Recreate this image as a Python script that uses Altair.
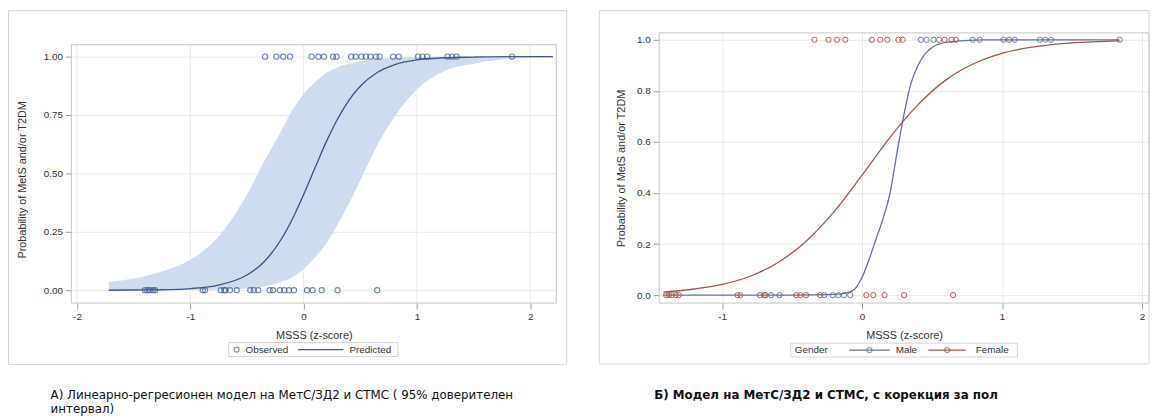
import altair as alt
import pandas as pd

# ---------------- data ----------------
# observed outcome = 1 (x positions, MSSS z-score) and gender
obs1_x = [-0.34, -0.24, -0.18, -0.12, 0.07, 0.13, 0.18, 0.26, 0.29, 0.42, 0.46, 0.51, 0.55,
          0.59, 0.64, 0.67, 0.79, 0.84, 1.01, 1.05, 1.09, 1.27, 1.31, 1.35, 1.84]
obs1_g = ["Female", "Female", "Female", "Female", "Female", "Female", "Female", "Female", "Female",
          "Male", "Male", "Male", "Male", "Female", "Female", "Female", "Male", "Male", "Male",
          "Female", "Male", "Male", "Male", "Male", "Male"]
# observed outcome = 0
obs0_x = [-1.40, -1.38, -1.36, -1.33, -1.31, -0.89, -0.87, -0.73, -0.70, -0.69, -0.65, -0.59,
          -0.47, -0.44, -0.40, -0.30, -0.27, -0.21, -0.17, -0.13, -0.085, 0.03, 0.08, 0.16, 0.30, 0.65]
obs0_g = ["Female", "Female", "Female", "Female", "Female", "Female", "Female", "Female", "Female",
          "Female", "Male", "Male", "Female", "Female", "Female", "Female", "Male", "Male", "Male",
          "Male", "Male", "Female", "Female", "Female", "Female", "Female"]

# panel A: predicted probability with 95% confidence limits
pred_x = [-1.72, -1.5, -1.25, -1.0, -0.75, -0.5, -0.35, -0.2, -0.1, 0.0, 0.1, 0.2, 0.3, 0.4,
          0.5, 0.65, 0.8, 1.0, 1.25, 1.5, 1.8, 2.2]
pred_p = [0.000, 0.001, 0.002, 0.007, 0.022, 0.065, 0.121, 0.216, 0.304, 0.409, 0.523, 0.635,
          0.733, 0.813, 0.873, 0.932, 0.965, 0.986, 0.995, 0.998, 1.0, 1.0]
ci_low = [0.0, 0.0, 0.0002, 0.0007, 0.002, 0.007, 0.016, 0.035, 0.055, 0.09, 0.14, 0.20, 0.28,
          0.37, 0.47, 0.62, 0.74, 0.86, 0.94, 0.97, 0.99, 0.997]
ci_up = [0.035, 0.05, 0.08, 0.13, 0.23, 0.41, 0.55, 0.68, 0.77, 0.84, 0.89, 0.93, 0.955, 0.97,
         0.98, 0.99, 0.995, 0.998, 0.999, 1.0, 1.0, 1.0]

# panel B: predicted probability by gender
male_x = [-1.42, -0.5, -0.2, -0.1, -0.05, 0.0, 0.05, 0.1, 0.15, 0.2, 0.25, 0.3, 0.35, 0.4,
          0.45, 0.5, 0.6, 0.8, 1.2, 1.84]
male_p = [0.0, 0.0, 0.003, 0.01, 0.025, 0.07, 0.14, 0.22, 0.30, 0.40, 0.56, 0.71, 0.83, 0.90,
          0.945, 0.97, 0.99, 0.999, 1.0, 1.0]
female_x = [-1.42, -1.2, -1.0, -0.8, -0.6, -0.4, -0.2, 0.0, 0.2, 0.4, 0.6, 0.8, 1.0, 1.2, 1.5, 1.84]
female_p = [0.012, 0.024, 0.042, 0.074, 0.128, 0.211, 0.327, 0.47, 0.618, 0.746, 0.843, 0.907,
            0.947, 0.970, 0.988, 0.996]

xa_ticks = [-2, -1, 0, 1, 2]
ya_ticks = [0, 0.25, 0.5, 0.75, 1.0]
xb_ticks = [-1, 0, 1, 2]
yb_ticks = [0, 0.2, 0.4, 0.6, 0.8, 1.0]

y_title = "Probability of MetS and/or T2DM"
x_title = "MSSS (z-score)"
cap_a1 = "А) Линеарно-регресионен модел на МетС/ЗД2 и СТМС ( 95% доверителен"
cap_a2 = "интервал)"
cap_b = "Б) Модел на МетС/ЗД2 и СТМС, с корекция за пол"

# ---------------- tables ----------------
obs = pd.DataFrame({
    "x": obs1_x + obs0_x,
    "y": [1.0] * len(obs1_x) + [0.0] * len(obs0_x),
    "g": obs1_g + obs0_g,
})
pred = pd.DataFrame({"x": pred_x, "p": pred_p, "lo": ci_low, "hi": ci_up})
fit = pd.DataFrame({
    "x": male_x + female_x,
    "p": male_p + female_p,
    "g": ["Male"] * len(male_x) + ["Female"] * len(female_x),
})
xa_grid = pd.DataFrame({"v": xa_ticks})
one = pd.DataFrame({"a": [0]})

LBL = "Liberation Sans"
CAP = "DejaVu Sans"
AX = "#333333"
FRAME = "#d6d6d6"
BORDER = "#c4c4c4"

BLUE_A = "#44568c"
BAND = "#cfdcf0"
MALE = "#63709f"
FEMALE = "#a4544c"


def deco_text(txt, x, y, size=10, weight="normal", font=LBL, color=AX):
    return alt.Chart(one).mark_text(align="left", baseline="middle", fontSize=size,
                                    fontWeight=weight, font=font, color=color).encode(
        x=alt.value(x), y=alt.value(y), text=alt.value(txt))


def deco_rule(x1, x2, y, color):
    return alt.Chart(one).mark_rule(color=color, strokeWidth=1.2).encode(
        x=alt.value(x1), x2=alt.value(x2), y=alt.value(y))


def deco_circle(x, y, color):
    return alt.Chart(one).mark_point(shape="circle", size=26, filled=False, color=color,
                                     strokeWidth=1.1).encode(x=alt.value(x), y=alt.value(y))


def deco_box(x1, x2, y1, y2, color=FRAME):
    return alt.Chart(one).mark_rect(fill="white", fillOpacity=0, stroke=color, strokeWidth=1).encode(
        x=alt.value(x1), x2=alt.value(x2), y=alt.value(y1), y2=alt.value(y2))


# ---------------- panel A ----------------
# plot origin shared with panel B; the visible wall of panel A starts 12px lower
WA, HA = 490, 273
xa_scale = alt.Scale(domain=[-2.05, 2.23], nice=False, zero=False)
ya_scale = alt.Scale(domain=[-0.055, 1.1017], nice=False, zero=False)
xa_axis = alt.Axis(values=xa_ticks, labelExpr="'' + datum.value", title=x_title,
                   titlePadding=8, grid=False)
ya_axis = alt.Axis(values=ya_ticks, labelExpr="format(datum.value, '.2f')",
                   title=y_title, titlePadding=16, titleY=148)

vgrid_a = alt.Chart(xa_grid).mark_rule(color="#e9e9e9", strokeWidth=1).encode(
    x=alt.X("v:Q", scale=xa_scale, axis=xa_axis),
    y=alt.value(12), y2=alt.value(HA),
)
band = alt.Chart(pred).mark_area(color=BAND, opacity=1, interpolate="monotone").encode(
    x=alt.X("x:Q", scale=xa_scale, axis=xa_axis),
    y=alt.Y("lo:Q", scale=ya_scale, axis=ya_axis),
    y2="hi:Q",
)
curve = alt.Chart(pred).mark_line(color=BLUE_A, strokeWidth=1.4, interpolate="monotone").encode(
    x=alt.X("x:Q", scale=xa_scale, axis=xa_axis),
    y=alt.Y("p:Q", scale=ya_scale, axis=ya_axis),
)
pts_a = alt.Chart(obs).mark_point(shape="circle", size=28, filled=False, color="#3b55a0",
                                  strokeWidth=1.1).encode(
    x=alt.X("x:Q", scale=xa_scale, axis=xa_axis),
    y=alt.Y("y:Q", scale=ya_scale, axis=ya_axis),
)

left = alt.layer(
    vgrid_a,
    deco_box(-63.5, 500.5, -22.5, 335),
    band, curve, pts_a,
    deco_box(0, WA, 12, HA, BORDER),
    deco_box(159, 330, 313, 327),
    deco_circle(167, 320, "#3b55a0"),
    deco_text("Observed", 176, 320),
    deco_rule(229, 275, 320, BLUE_A),
    deco_text("Predicted", 281, 320),
    deco_text(cap_a1, -21, 366, size=12, font=CAP, color="#111111"),
    deco_text(cap_a2, -21, 380, size=12, font=CAP, color="#111111"),
).properties(width=WA, height=HA)

# ---------------- panel B ----------------
WB, HB = 495, 273
xb_scale = alt.Scale(domain=[-1.45, 2.05], nice=False, zero=False)
yb_scale = alt.Scale(domain=[-0.031, 1.027], nice=False, zero=False)
xb_axis = alt.Axis(values=xb_ticks, labelExpr="'' + datum.value", title=x_title,
                   titlePadding=8)
yb_axis = alt.Axis(values=yb_ticks, labelExpr="format(datum.value, '.1f')",
                   title=y_title, titlePadding=10)
g_scale = alt.Scale(domain=["Male", "Female"], range=[MALE, FEMALE])

lines_b = alt.Chart(fit).mark_line(strokeWidth=1.3, interpolate="monotone").encode(
    x=alt.X("x:Q", scale=xb_scale, axis=xb_axis),
    y=alt.Y("p:Q", scale=yb_scale, axis=yb_axis),
    color=alt.Color("g:N", scale=g_scale, legend=None),
    detail="g:N",
)
pts_b = alt.Chart(obs).mark_point(shape="circle", size=28, filled=False, strokeWidth=1.0,
                                  opacity=0.9).encode(
    x=alt.X("x:Q", scale=xb_scale, axis=xb_axis),
    y=alt.Y("y:Q", scale=yb_scale, axis=yb_axis),
    color=alt.Color("g:N", scale=g_scale, legend=None),
)

right = alt.layer(
    deco_box(-60.5, 495, -22.5, 334.5),
    lines_b, pts_b,
    deco_box(0, WB, 0, HB, BORDER),
    deco_box(133, 362, 313.5, 327.5),
    deco_text("Gender", 137, 320.5),
    deco_rule(192, 233, 320.5, MALE),
    deco_circle(212.5, 320.5, MALE),
    deco_text("Male", 239, 320.5),
    deco_rule(272, 310, 320.5, FEMALE),
    deco_circle(291, 320.5, FEMALE),
    deco_text("Female", 320, 320.5),
    deco_text(cap_b, -5, 366, size=12, weight="bold", font=CAP, color="#111111"),
).properties(width=WB, height=HB)

chart = alt.hconcat(left, right, spacing=32).properties(
    padding=0, background="white"
).configure_view(
    strokeWidth=0, fill="white"
).configure_axis(
    domain=False, grid=True, gridColor="#e9e9e9", gridWidth=1,
    tickColor="#9a9a9a", tickSize=6, labelPadding=3,
    labelFont=LBL, labelFontSize=10, labelColor=AX,
    titleFont=LBL, titleFontSize=11, titleFontWeight="normal", titleColor=AX,
)

chart.save("out.html", embed_options={"renderer": "svg", "actions": False})
